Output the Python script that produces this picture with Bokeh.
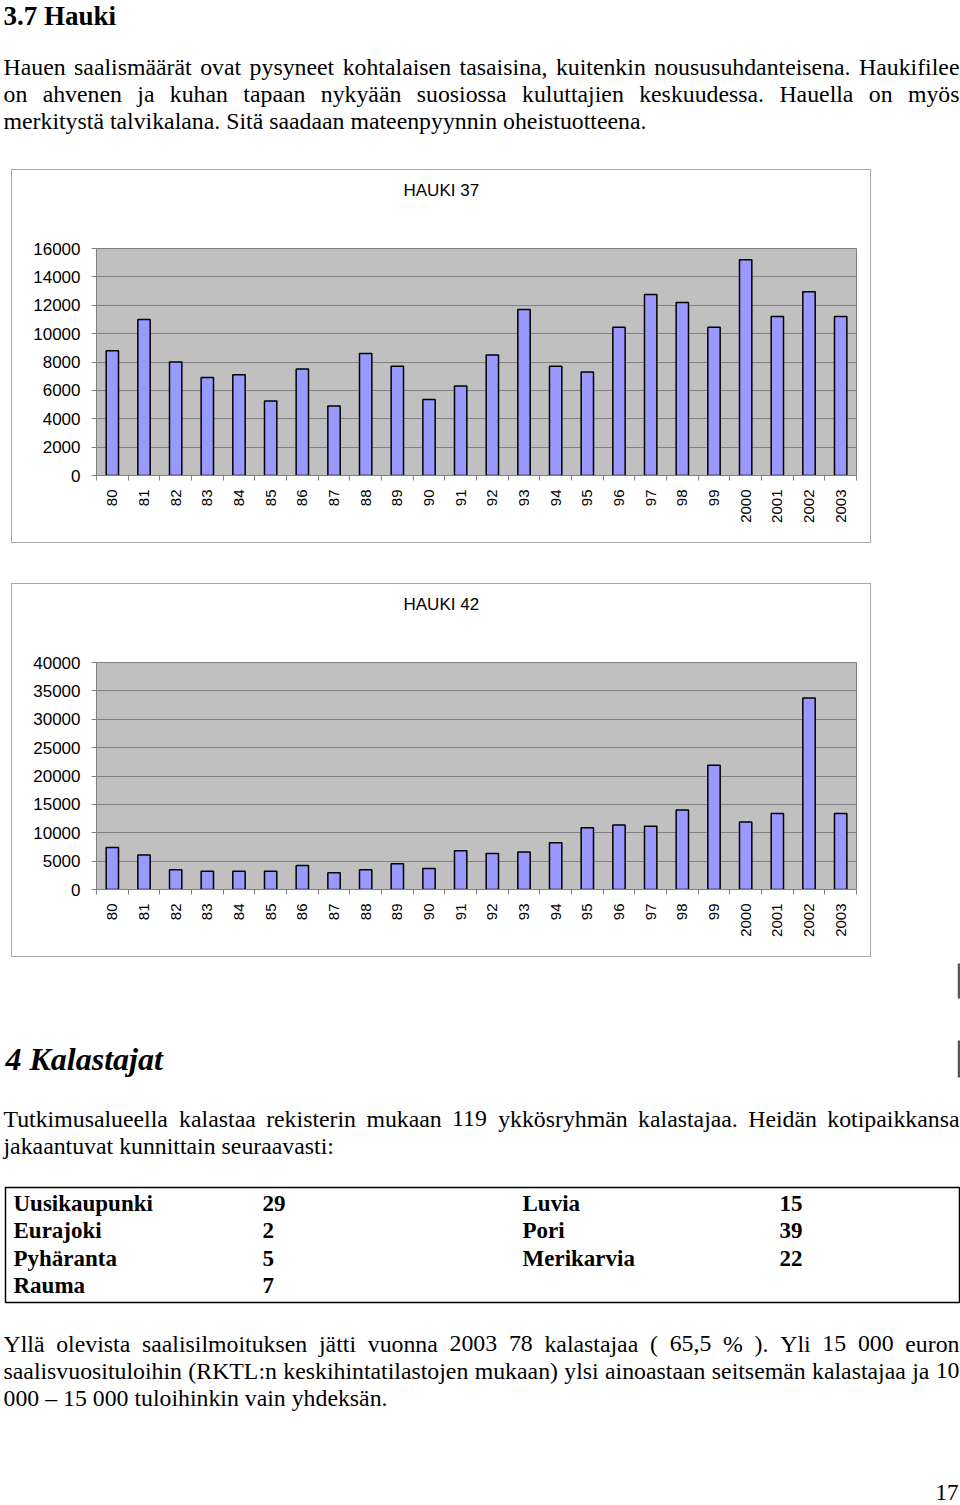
import math
from bokeh.plotting import figure
from bokeh.models import (Range1d, LinearAxis, FixedTicker, ColumnDataSource, Spacer)
from bokeh.layouts import column, row
from bokeh.core.properties import value
from bokeh.embed import file_html
from bokeh.resources import INLINE

# ---------------- data ----------------
years = ["80", "81", "82", "83", "84", "85", "86", "87", "88", "89", "90", "91",
         "92", "93", "94", "95", "96", "97", "98", "99", "2000", "2001", "2002", "2003"]
hauki37 = [8800, 11000, 8000, 6900, 7100, 5250, 7500, 4900, 8600, 7700, 5350, 6300,
           8500, 11700, 7700, 7300, 10450, 12750, 12200, 10450, 15200, 11200, 12950, 11200]
hauki42 = [7400, 6100, 3500, 3200, 3200, 3200, 4250, 2950, 3500, 4550, 3700, 6850,
           6350, 6600, 8250, 10900, 11350, 11150, 14000, 21900, 11900, 13400, 33750, 13400]
ticks37 = [0, 2000, 4000, 6000, 8000, 10000, 12000, 14000, 16000]
ticks42 = [0, 5000, 10000, 15000, 20000, 25000, 30000, 35000, 40000]
chart_titles = ["HAUKI 37", "HAUKI 42"]

heading1 = "3.7 Hauki"
para1 = ["Hauen saalismäärät ovat pysyneet kohtalaisen tasaisina, kuitenkin noususuhdanteisena. Haukifilee",
         "on ahvenen ja kuhan tapaan nykyään suosiossa kuluttajien keskuudessa. Hauella on myös",
         "merkitystä talvikalana. Sitä saadaan mateenpyynnin oheistuotteena."]
heading2 = "4 Kalastajat"
para2 = ["Tutkimusalueella kalastaa rekisterin mukaan 119 ykkösryhmän kalastajaa. Heidän kotipaikkansa",
         "jakaantuvat kunnittain seuraavasti:"]
table_left_names = ["Uusikaupunki", "Eurajoki", "Pyhäranta", "Rauma"]
table_left_counts = ["29", "2", "5", "7"]
table_right_names = ["Luvia", "Pori", "Merikarvia"]
table_right_counts = ["15", "39", "22"]
para3 = ["Yllä olevista saalisilmoituksen jätti vuonna 2003 78 kalastajaa ( 65,5 % ). Yli 15 000 euron",
         "saalisvuosituloihin (RKTL:n keskihintatilastojen mukaan) ylsi ainoastaan seitsemän kalastajaa ja 10",
         "000 – 15 000 tuloihinkin vain yhdeksän."]
page_number = "17"

# ---------------- text metrics (Times / Liberation Serif) ----------------
GROUPS = {250: " ,.", 278: "ijlt:;", 333: "frI()-", 389: "sJ", 444: "acezäå",
          500: "bdghknopquvxyö0123456789–", 556: "SFP", 611: "ETLZ", 667: "BCR",
          722: "ADGHKNOQUVXYwÄÖ", 778: "m", 833: "%", 889: "M", 944: "W"}
METRIC = {ch: w for w, chars in GROUPS.items() for ch in chars}


def em(s):
    return sum(METRIC.get(ch, 500) for ch in s) / 1000.0


W = 960
LEFT, RIGHT = 3, 959
SERIF = value("Liberation Serif")
SANS = "Liberation Sans"
BORDER = "#a6a6a6"

justified_lines = [para1[0], para1[1], para2[0], para3[0], para3[1]]
FS = min(23.8, (RIGHT - LEFT - 1) / max(em(l) for l in justified_lines))


def text_fig(w, h, x0=0, x1=None):
    f = figure(width=w, height=h, x_range=Range1d(x0, w if x1 is None else x1),
               y_range=Range1d(h, 0),
               output_backend="svg", toolbar_location=None,
               x_axis_location=None, y_axis_location=None, min_border=0)
    f.outline_line_color = None
    f.grid.visible = False
    return f


def add_justified(f, line, y):
    words = line.split(" ")
    widths = [em(w) * FS for w in words]
    gap = (RIGHT - LEFT - sum(widths)) / (len(words) - 1)
    xs, x = [], float(LEFT)
    for wd in widths:
        xs.append(x)
        x += wd + gap
    f.text(x=xs, y=[y] * len(words), text=words, text_font=SERIF,
           text_font_size=value(f"{FS:.2f}px"), text_baseline="middle",
           text_align="left", text_color="black")


def add_line(f, line, x, y, size, style="normal", align="left", font=SERIF):
    f.text(x=[x], y=[y], text=[line], text_font=font, text_font_size=value(f"{size}px"),
           text_font_style=style, text_baseline="middle", text_align=align,
           text_color="black")


# ---------------- top text (page y 0..169) ----------------
top = text_fig(W, 169)
add_line(top, heading1, 3, 15, 27, "bold")
add_justified(top, para1[0], 66)
add_justified(top, para1[1], 93)
add_line(top, para1[2], LEFT, 120, f"{FS:.2f}")


# ---------------- charts ----------------
def make_chart(title, values, ticks):
    n = len(years)
    idx = list(range(n))
    src = ColumnDataSource(dict(pos=idx, year=years, value=values))

    # the title strip's frame is aligned with the chart frame (page x 96..856)
    head = text_fig(858, 66, 96, 856)
    add_line(head, title, 403, 20, 17, font=value(SANS), align="left")

    p = figure(width=858, height=306, x_range=Range1d(-0.5, n - 0.5), y_range=Range1d(0, ticks[-1]),
               output_backend="svg", toolbar_location=None,
               min_border_left=84, min_border_right=14, min_border_top=12, min_border_bottom=67,
               background_fill_color="#c0c0c0", border_fill_color="white")
    p.outline_line_color = "#808080"
    p.outline_line_width = 1
    p.xgrid.visible = False
    ticker = FixedTicker(ticks=ticks)
    p.yaxis.ticker = ticker
    p.ygrid.ticker = ticker
    p.ygrid.grid_line_color = "#808080"
    p.ygrid.grid_line_width = 1
    ya = p.yaxis[0]
    ya.axis_line_color = "#808080"
    ya.major_tick_line_color = "#808080"
    ya.major_tick_out = 5
    ya.major_tick_in = 0
    ya.minor_tick_line_color = None
    ya.major_label_standoff = 11
    ya.major_label_text_font = SANS
    ya.major_label_text_font_size = "17px"
    ya.major_label_text_color = "black"

    edges = [i - 0.5 for i in range(n + 1)]
    edge_axis = LinearAxis(ticker=FixedTicker(ticks=edges),
                           major_tick_out=5, major_tick_in=0, minor_tick_line_color=None,
                           axis_line_color="#808080", major_tick_line_color="#808080",
                           major_label_text_font_size="0px", major_label_standoff=0,
                           major_label_overrides={e: "" for e in edges})
    xa = p.xaxis[0]
    xa.ticker = FixedTicker(ticks=idx)
    xa.major_label_overrides = {i: y for i, y in zip(idx, years)}
    xa.axis_line_color = None
    xa.major_tick_line_color = None
    xa.minor_tick_line_color = None
    xa.major_tick_out = 0
    xa.major_tick_in = 0
    xa.major_label_orientation = math.pi / 2
    xa.major_label_standoff = 9
    xa.major_label_text_font = SANS
    xa.major_label_text_font_size = "15px"
    xa.major_label_text_color = "black"
    p.below = [edge_axis] + list(p.below)

    p.vbar(x="pos", top="value", width=0.39, source=src,
           fill_color="#9999ff", line_color="black", line_width=1.5)

    def edge(w, h):
        return Spacer(width=w, height=h, styles={"background-color": BORDER})

    block = column(edge(860, 1),
                   row(edge(1, 372), column(head, p), edge(1, 372)),
                   edge(860, 1))
    return block


c1 = make_chart(chart_titles[0], hauki37, ticks37)
c2 = make_chart(chart_titles[1], hauki42, ticks42)

# ---------------- bottom text (page y 957..1505) ----------------
bot = text_fig(W, 548)
bot.segment(x0=[958.5, 958.5], y0=[6, 83], x1=[958.5, 958.5], y1=[41, 120],
            line_color="#555555", line_width=2.5)
add_line(bot, heading2, 5, 101, 32, "bold italic")
add_justified(bot, para2[0], 161)
add_line(bot, para2[1], LEFT, 188, f"{FS:.2f}")
bot.quad(left=[5], right=[959], top=[230], bottom=[345], fill_color=None,
         line_color="black", line_width=1.5)
row_y = [246, 273, 301, 328]
for i, (nm, c) in enumerate(zip(table_left_names, table_left_counts)):
    add_line(bot, nm, 13, row_y[i], 23, "bold")
    add_line(bot, c, 262, row_y[i], 23, "bold")
for i, (nm, c) in enumerate(zip(table_right_names, table_right_counts)):
    add_line(bot, nm, 522, row_y[i], 23, "bold")
    add_line(bot, c, 779, row_y[i], 23, "bold")
add_justified(bot, para3[0], 386)
add_justified(bot, para3[1], 413)
add_line(bot, para3[2], LEFT, 440, f"{FS:.2f}")
add_line(bot, page_number, 958, 535, 23, "normal", "right")

layout = column(top,
                row(Spacer(width=11, height=374), c1),
                Spacer(width=W, height=40),
                row(Spacer(width=11, height=374), c2),
                bot)

open("out.html", "w").write(file_html(layout, INLINE, title="Hauki"))
